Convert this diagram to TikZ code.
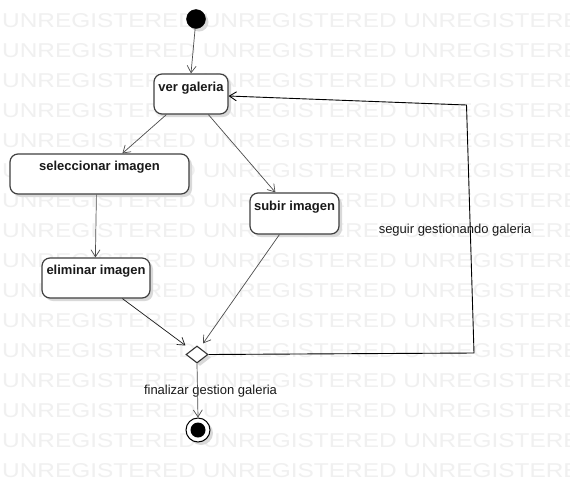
\documentclass[tikz,border=0pt]{standalone}
\usepackage{fontspec}
\setmainfont{Liberation Sans}
\usetikzlibrary{arrows.meta,shapes.geometric,shadows,calc}
\begin{document}
\begin{tikzpicture}[x=1pt,y=-1pt,
  wm/.style={text=black!6, font=\fontsize{20}{20}\selectfont, anchor=base west, inner sep=0pt},
  shad/.style={drop shadow={shadow xshift=3pt,shadow yshift=-3pt,fill=black!15,opacity=1}},
  act/.style={draw=black!75, line width=1.2pt, rounded corners=8pt, fill=white, shad, inner sep=0pt},
  acttext/.style={font=\fontsize{13}{15}\selectfont\bfseries, anchor=base, inner sep=0pt, text=black!90},
  flow/.style={draw=black!70, line width=0.7pt, -{Straight Barb[length=7pt,width=9pt]}},
  guard/.style={font=\fontsize{13}{15}\selectfont, anchor=base, inner sep=0pt, text=black!90},
  startdot/.style={circle, fill=black, draw=black, inner sep=0pt, minimum size=19pt, shad},
  decision/.style={diamond, draw=black!80, line width=1.1pt, fill=white, inner sep=0pt, minimum width=22pt, minimum height=17pt, shad},
  endring/.style={circle, draw=black, line width=1pt, fill=white, inner sep=0pt, minimum size=24pt, shad},
  enddot/.style={circle, fill=black, inner sep=0pt, minimum size=15pt}]
\clip (0,0) rectangle (570,483);
\fill[white] (0,0) rectangle (570,483);
% watermark
\foreach \k in {0,...,15} {
  \node[wm] (wm\k) at (2,27.5+30*\k) {\scalebox{1.22}[1]{UNREGISTERED UNREGISTERED UNREGISTERED}};
}
% nodes
\node[startdot] (init) at (196,19) {};
\node[act, minimum width=74pt, minimum height=40pt] (vg) at (191,94) {};
\node[acttext] (vgt) at ($(vg.north)+(0,18)$) {ver galeria};
\node[act, minimum width=179pt, minimum height=40pt] (sel) at (99.5,174) {};
\node[acttext] (selt) at ($(sel.north)+(0,17.5)$) {seleccionar imagen};
\node[act, minimum width=89pt, minimum height=41pt] (sub) at (294.5,213.5) {};
\node[acttext] (subt) at ($(sub.north)+(0,18)$) {subir imagen};
\node[act, minimum width=108pt, minimum height=40pt] (elim) at (96,278) {};
\node[acttext] (elimt) at ($(elim.north)+(0,17.5)$) {eliminar imagen};
\node[decision] (dec) at (197,354.5) {};
\node[endring] (fin) at (198,430) {};
\node[enddot] (findot) at (fin.center) {};
% labels
\node[guard] (lseg) at (455,233) {seguir gestionando galeria};
\node[guard] (lfin) at (210.5,394) {finalizar gestion galeria};
% connectors
\draw[flow] (init) -- (vg.north);
\draw[flow] ([xshift=13pt]vg.south west) -- ([xshift=113pt]sel.north west);
\draw[flow] ([xshift=55pt]vg.south west) -- ([xshift=26pt]sub.north west);
\draw[flow] ([xshift=87pt]sel.south west) -- ([xshift=54pt]elim.north west);
\draw[flow, draw=black!90] ([xshift=81pt]elim.south west) -- (dec.west |- dec.north);
\draw[flow] ([xshift=30pt]sub.south west) -- ([xshift=6pt,yshift=2pt]dec.north);
\coordinate (c1) at (474,353);
\coordinate (c2) at (466.5,105);
\draw[flow, draw=black, line width=0.9pt] (dec.east) -- (c1) -- (c2) -- ([yshift=-2pt]vg.east);
\draw[flow] (dec.south) -- (fin.north);
\end{tikzpicture}
\end{document}
